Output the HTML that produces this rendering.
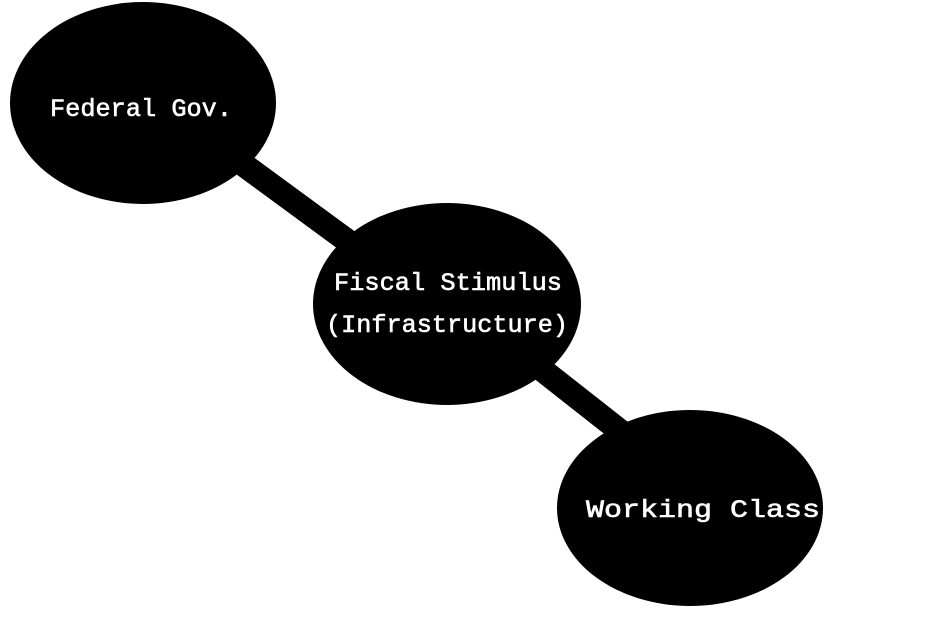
<!DOCTYPE html>
<html><head><style>html,body{margin:0;padding:0;background:#fff;width:944px;height:639px;overflow:hidden}</style></head>
<body>
<svg width="944" height="639" viewBox="0 0 944 639" xmlns="http://www.w3.org/2000/svg">
<line x1="143" y1="91" x2="447" y2="314" stroke="#000" stroke-width="24" stroke-linecap="round"/>
<line x1="447" y1="295" x2="690" y2="486" stroke="#000" stroke-width="24" stroke-linecap="round"/>
<ellipse cx="143" cy="103" rx="133" ry="101" fill="#000"/>
<ellipse cx="447" cy="304" rx="134" ry="101" fill="#000"/>
<ellipse cx="690" cy="508" rx="133" ry="98" fill="#000"/>
<g font-family="Liberation Mono, monospace" font-size="25" fill="#fff" stroke="#fff" stroke-width="0.6" text-anchor="middle">
<text x="141" y="116" textLength="182" lengthAdjust="spacingAndGlyphs">Federal Gov.</text>
<text x="448" y="290" textLength="228" lengthAdjust="spacingAndGlyphs">Fiscal Stimulus</text>
<text x="447" y="332" textLength="242" lengthAdjust="spacingAndGlyphs">(Infrastructure)</text>
<text x="703" y="517" textLength="234" lengthAdjust="spacingAndGlyphs">Working Class</text>
</g>
</svg>
</body></html>
